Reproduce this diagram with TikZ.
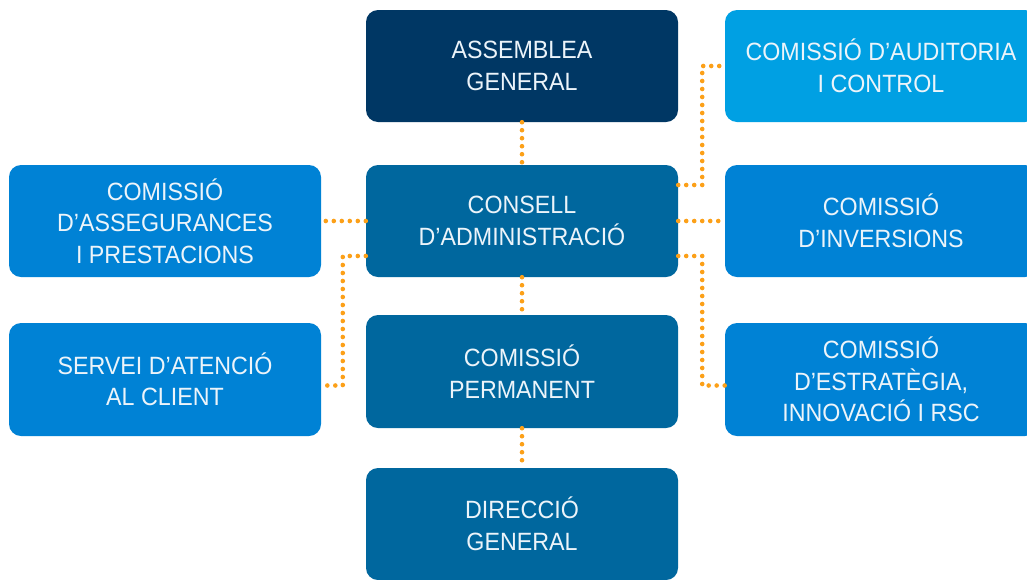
\documentclass[tikz,border=0pt]{standalone}
\usepackage{fontspec}
\setmainfont{Liberation Sans}[FakeStretch=0.93]
\definecolor{navy}{RGB}{0,55,100}
\definecolor{midblue}{RGB}{0,103,158}
\definecolor{sideblue}{RGB}{0,130,213}
\definecolor{lightblue}{RGB}{0,160,227}
\definecolor{dotorange}{RGB}{252,160,24}
\definecolor{boxtext}{RGB}{236,244,250}
\tikzset{
  orgbox/.style={rectangle, rounded corners=12pt, minimum width=312pt, minimum height=112pt,
    inner sep=0pt, align=center, text=boxtext, font=\fontsize{25}{31.5}\selectfont},
  dots/.style={draw=dotorange, line width=4.6pt, line cap=round, dash pattern=on 0pt off 8pt}
}
\begin{document}
\begin{tikzpicture}[x=1pt,y=-1pt]
\clip (0,0) rectangle (1027,579);
\fill[white] (0,0) rectangle (1027,579);
% centre column
\node[orgbox, fill=navy] (ag) at (522,66) {ASSEMBLEA\\GENERAL};
\node[orgbox, fill=midblue] (cd) at (522,221) {CONSELL\\D’ADMINISTRACIÓ};
\node[orgbox, fill=midblue, minimum height=113pt] (cp) at (522,371.5) {COMISSIÓ\\PERMANENT};
\node[orgbox, fill=midblue] (dg) at (522,524) {DIRECCIÓ\\GENERAL};
% left column
\node[orgbox, fill=sideblue] (ca) at (165,221) {COMISSIÓ\\D’ASSEGURANCES\\I PRESTACIONS};
\node[orgbox, fill=sideblue, minimum height=113pt] (sac) at (165,379.5) {SERVEI D’ATENCIÓ\\AL CLIENT};
% right column
\node[orgbox, fill=lightblue] (cac) at (881,66) {COMISSIÓ D’AUDITORIA\\I CONTROL};
\node[orgbox, fill=sideblue] (ci) at (881,221) {COMISSIÓ\\D’INVERSIONS};
\node[orgbox, fill=sideblue, minimum height=113pt] (ce) at (881,379.5) {COMISSIÓ\\D’ESTRATÈGIA,\\INNOVACIÓ I RSC};
% connectors
\draw[dots] (ag.south) -- (cd.north);
\draw[dots] (cd.south) -- (cp.north);
\draw[dots] (cp.south) -- (dg.north);
\draw[dots] (cd.west) -- (ca.east);
\draw[dots] (cd.east) -- (ci.west);
\draw[dots] ([yshift=-35pt]cd.west) -- ++(-23,0) |- ([yshift=-6pt]sac.east);
\draw[dots] ([yshift=36pt]cd.east) -- ++(24,0) |- (cac.west);
\draw[dots] ([yshift=-35pt]cd.east) -- ++(24,0) |- ([yshift=-6pt]ce.west);
\end{tikzpicture}
\end{document}
